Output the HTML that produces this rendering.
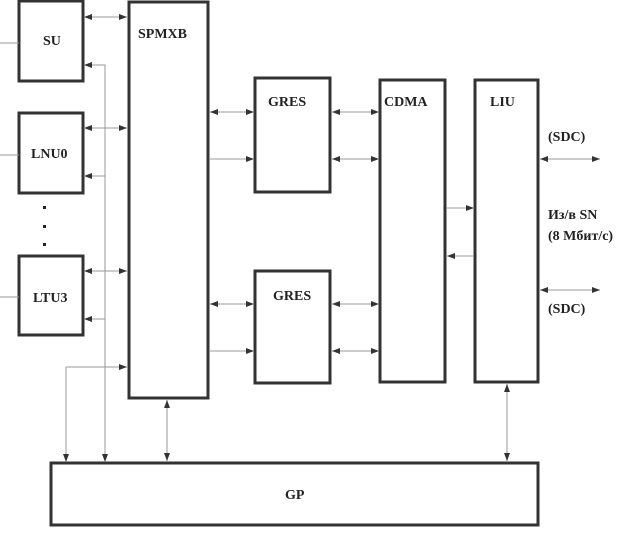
<!DOCTYPE html>
<html><head><meta charset="utf-8"><style>
body{margin:0;background:#fff}
svg text{font-family:"Liberation Serif","DejaVu Serif",serif;font-weight:bold;font-size:14px;fill:#222}
</style></head><body>
<svg width="619" height="531" xmlns="http://www.w3.org/2000/svg">
<defs>
<marker id="a" markerWidth="8" markerHeight="6" refX="8" refY="3" orient="auto-start-reverse" markerUnits="userSpaceOnUse"><path d="M0,0L8,3L0,6z" fill="#333"/></marker>
</defs>
<g fill="none" stroke="#333" stroke-width="3">
<rect x="19" y="1" width="64" height="80"/>
<rect x="19" y="113" width="64" height="80"/>
<rect x="19" y="256" width="64" height="79"/>
<rect x="129" y="2" width="79" height="396"/>
<rect x="255" y="78" width="75" height="114"/>
<rect x="255" y="271" width="75" height="112"/>
<rect x="380" y="80" width="65" height="302"/>
<rect x="475" y="80" width="63" height="302"/>
<rect x="51" y="463" width="487" height="62"/>
</g>
<g stroke="#999" stroke-width="1" fill="none">
<line x1="0" y1="43" x2="19" y2="43"/><line x1="0" y1="155" x2="19" y2="155"/><line x1="0" y1="297" x2="19" y2="297"/>
<line x1="84" y1="17" x2="127" y2="17" marker-start="url(#a)" marker-end="url(#a)"/>
<line x1="84" y1="128" x2="127" y2="128" marker-start="url(#a)" marker-end="url(#a)"/>
<line x1="84" y1="271" x2="127" y2="271" marker-start="url(#a)" marker-end="url(#a)"/>
<polyline points="105,462 105,65 84,65" marker-start="url(#a)" marker-end="url(#a)"/>
<line x1="105" y1="176" x2="84" y2="176" marker-end="url(#a)"/>
<line x1="105" y1="319" x2="84" y2="319" marker-end="url(#a)"/>
<polyline points="66,462 66,367 127,367" marker-start="url(#a)" marker-end="url(#a)"/>
<line x1="167" y1="400" x2="167" y2="461" marker-start="url(#a)" marker-end="url(#a)"/>
<line x1="507" y1="384" x2="507" y2="461" marker-start="url(#a)" marker-end="url(#a)"/>
<line x1="210" y1="112" x2="254" y2="112" marker-start="url(#a)" marker-end="url(#a)"/>
<line x1="210" y1="159" x2="254" y2="159" marker-end="url(#a)"/>
<line x1="210" y1="304" x2="254" y2="304" marker-start="url(#a)" marker-end="url(#a)"/>
<line x1="210" y1="351" x2="254" y2="351" marker-end="url(#a)"/>
<line x1="332" y1="112" x2="379" y2="112" marker-start="url(#a)" marker-end="url(#a)"/>
<line x1="332" y1="159" x2="379" y2="159" marker-start="url(#a)" marker-end="url(#a)"/>
<line x1="332" y1="304" x2="379" y2="304" marker-start="url(#a)" marker-end="url(#a)"/>
<line x1="332" y1="351" x2="379" y2="351" marker-start="url(#a)" marker-end="url(#a)"/>
<line x1="447" y1="208" x2="474" y2="208" marker-end="url(#a)"/>
<line x1="474" y1="256" x2="447" y2="256" marker-end="url(#a)"/>
<line x1="540" y1="159" x2="600" y2="159" marker-start="url(#a)" marker-end="url(#a)"/>
<line x1="540" y1="290" x2="600" y2="290" marker-start="url(#a)" marker-end="url(#a)"/>
</g>
<g fill="#222"><rect x="43" y="206" width="3" height="3"/><rect x="43" y="225" width="3" height="3"/><rect x="43" y="243" width="3" height="3"/></g>
<text x="43" y="45">SU</text>
<text x="31" y="158">LNU0</text>
<text x="33" y="302">LTU3</text>
<text x="138" y="38">SPMXB</text>
<text x="268" y="106">GRES</text>
<text x="273" y="300">GRES</text>
<text x="384" y="106">CDMA</text>
<text x="490" y="106">LIU</text>
<text x="548" y="141">(SDC)</text>
<text x="548" y="219">Из/в SN</text>
<text x="548" y="240">(8 Мбит/с)</text>
<text x="548" y="313">(SDC)</text>
<text x="285" y="499">GP</text>
</svg>
</body></html>
